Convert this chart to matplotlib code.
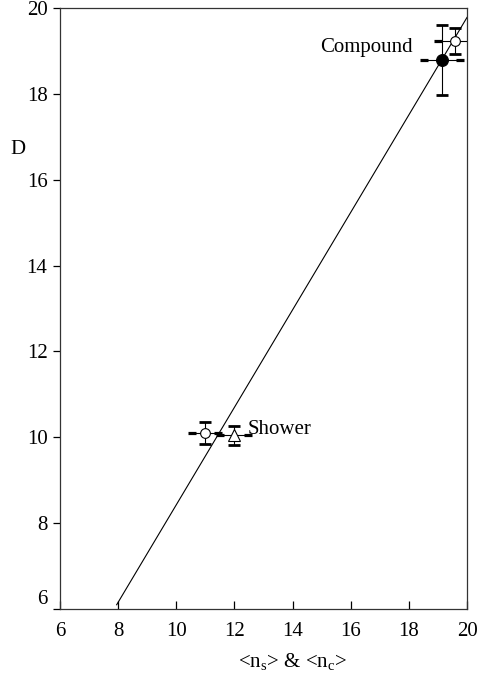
import matplotlib
matplotlib.use("Agg")
import matplotlib.pyplot as plt
import numpy as np

plt.rcParams['font.family'] = ['Liberation Serif', 'DejaVu Serif']
plt.rcParams['mathtext.fontset'] = 'custom'
plt.rcParams['mathtext.rm'] = 'Liberation Serif'

# data
fit_x = [7.95, 20.0]
fit_y = [6.1, 19.78]

comp_filled_x, comp_filled_y = [19.15], [18.79]
comp_filled_xerr, comp_filled_yerr = [0.62], [0.82]

comp_open_x, comp_open_y = [19.59], [19.23]
comp_open_xerr, comp_open_yerr = [0.6], [0.3]

shower_circ_x, shower_circ_y = [11.0], [10.1]
shower_circ_xerr, shower_circ_yerr = [0.45], [0.25]

shower_tri_x, shower_tri_y = [12.0], [10.05]
shower_tri_xerr, shower_tri_yerr = [0.48], [0.22]

xticks = [6, 8, 10, 12, 14, 16, 18, 20]
yticks = [6, 8, 10, 12, 14, 16, 18, 20]

fig = plt.figure(figsize=(4.81, 6.77), dpi=100)
ax = fig.add_axes([0.1247, 0.1004, 0.9709 - 0.1247, 0.9882 - 0.1004])

ax.plot(fit_x, fit_y, color='black', lw=0.8, zorder=2)

def point(x, y, xerr, yerr, marker, ms, mfc):
    x = np.array(x); y = np.array(y); xerr = np.array(xerr); yerr = np.array(yerr)
    ax.errorbar(x, y, yerr=yerr, fmt='none', ecolor='black', elinewidth=0.8,
                capsize=4, capthick=2, zorder=3)
    ax.errorbar(x, y, xerr=xerr, fmt='none', ecolor='black', elinewidth=0.8,
                capsize=0, zorder=3)
    ax.plot(np.concatenate([x - xerr, x + xerr]), np.concatenate([y, y]),
            ls='none', marker='_', ms=6, mew=2.3, color='black', zorder=3,
            clip_on=True)
    ax.plot(x, y, ls='none', marker=marker, ms=ms, mfc=mfc, mec='black',
            mew=0.8, zorder=4)

point(comp_filled_x, comp_filled_y, comp_filled_xerr, comp_filled_yerr, 'o', 8.5, 'black')
point(comp_open_x, comp_open_y, comp_open_xerr, comp_open_yerr, 'o', 7, 'white')
point(shower_circ_x, shower_circ_y, shower_circ_xerr, shower_circ_yerr, 'o', 7, 'white')
point(shower_tri_x, shower_tri_y, shower_tri_xerr, shower_tri_yerr, '^', 8.5, 'white')

ax.text(18.12, 19.08, 'Compound', fontsize=15, ha='right', va='center')
ax.text(12.45, 10.18, 'Shower', fontsize=15, ha='left', va='center')

ax.set_xlim(6, 20)
ax.set_ylim(6, 20)
ax.set_xticks(xticks)
ax.set_yticks(yticks)
ax.tick_params(axis='x', direction='in', length=6, width=0.9, labelsize=15, pad=9)
ax.tick_params(axis='y', direction='out', length=5, width=0.9, labelsize=15, pad=4)
ax.get_yticklabels()[0].set_va('bottom')
for s in ax.spines.values():
    s.set_linewidth(0.9)
    s.set_color('#333333')

fig.text(18 / 481, 1 - 149 / 677, 'D', fontsize=15, ha='center', va='center')
fig.text(293 / 481, 1 - 662 / 677, r'<n$_\mathrm{s}$> & <n$_\mathrm{c}$>',
         fontsize=15, ha='center', va='center')

fig.savefig('out.png', dpi=100)
